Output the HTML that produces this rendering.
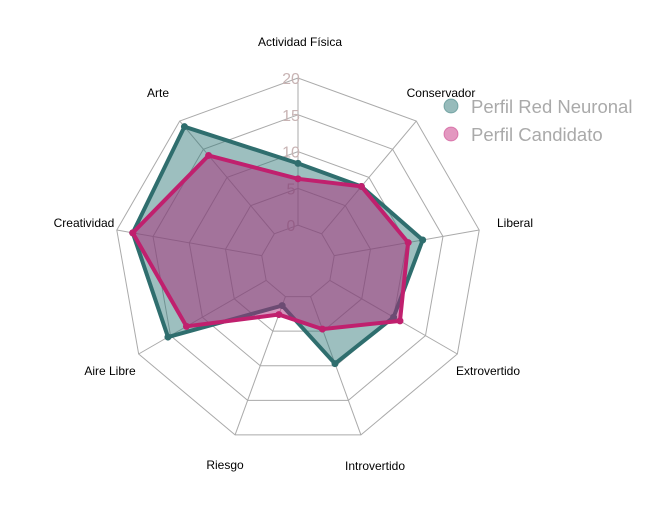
<!DOCTYPE html>
<html><head><meta charset="utf-8"><style>
body{margin:0;background:#fff;}
svg{display:block;font-family:"Liberation Sans",sans-serif;}
</style></head><body>
<svg id="c" width="653" height="509"></svg>
<script>
const axes=["Actividad Física","Arte","Creatividad","Aire Libre","Riesgo","Introvertido","Extrovertido","Liberal","Conservador"];
const neural=[8.4,19,17.8,15.4,1.3,9.7,10,12.2,8.4];
const candidate=[6.3,13.9,17.8,12.5,2.6,4.7,11,10.2,8.4];
const ticks=[0,5,10,15,20];
const labelPos=[[300,46],[158,97],[84,227],[110,375],[225,469],[375,470],[488,375],[515,227],[441,97]];
const cx=298,cy=262,R=184,vmax=20;
const NS="http://www.w3.org/2000/svg";
const svg=document.getElementById('c');
function rad(v){return R/5+(R*4/5)*v/vmax;}
function ang(i){return (90+i*360/axes.length)*Math.PI/180;}
function pt(i,v){const r=rad(v),a=ang(i);return [cx+r*Math.cos(a),cy-r*Math.sin(a)];}
function mk(tag,attrs){const e=document.createElementNS(NS,tag);for(const k in attrs)e.setAttribute(k,attrs[k]);svg.appendChild(e);return e;}
ticks.forEach((t,ti)=>{
  const p=axes.map((_,i)=>pt(i,t).join(',')).join(' ');
  const e=mk('polygon',{points:p,fill:'none',stroke:'#aaaaaa','stroke-width':1});
  
  
});
axes.forEach((a,i)=>{
  const p0=pt(i,0),p=pt(i,vmax);
  const e=mk('line',{x1:p0[0],y1:p0[1],x2:p[0],y2:p[1],stroke:'#aaaaaa','stroke-width':1});
  
  
});
ticks.forEach(t=>{
  const e=mk('text',{x:cx-7,y:cy-rad(t)+6,'text-anchor':'middle','font-size':16,fill:'#c8b4b4'});
  e.textContent=t;
  
  
});
function series(vals,fill,stroke,name){
  const p=vals.map((v,i)=>pt(i,v).join(',')).join(' ');
  const e=mk('polygon',{points:p,fill:fill,stroke:stroke,'stroke-width':4,'stroke-linejoin':'miter'});
  
  
  vals.forEach((v,i)=>{
    const q=pt(i,v);
    const c=mk('circle',{cx:q[0],cy:q[1],r:3.5,fill:stroke});
    
    
  });
}
series(neural,'rgba(47,120,120,0.47)','#2f6e6e','neural-profile');
series(candidate,'rgba(170,40,120,0.5)','#c0206e','candidate-profile');
axes.forEach((a,i)=>{
  const e=mk('text',{x:labelPos[i][0],y:labelPos[i][1],'text-anchor':'middle','font-size':12,fill:'#000'});
  e.textContent=a;
  
  
});
[["Perfil Red Neuronal",'rgba(47,120,120,0.5)','#2f6e6e',106],["Perfil Candidato",'rgba(200,50,130,0.5)','#c0206e',134]].forEach(l=>{
  const c=mk('circle',{cx:451,cy:l[3],r:7,fill:l[1],stroke:l[1],'stroke-width':1});
  
  
  const t=mk('text',{x:471,y:l[3]+7,'font-size':18.5,fill:'#aaaaaa'});
  t.textContent=l[0];
  
  
});
</script>
</body></html>
